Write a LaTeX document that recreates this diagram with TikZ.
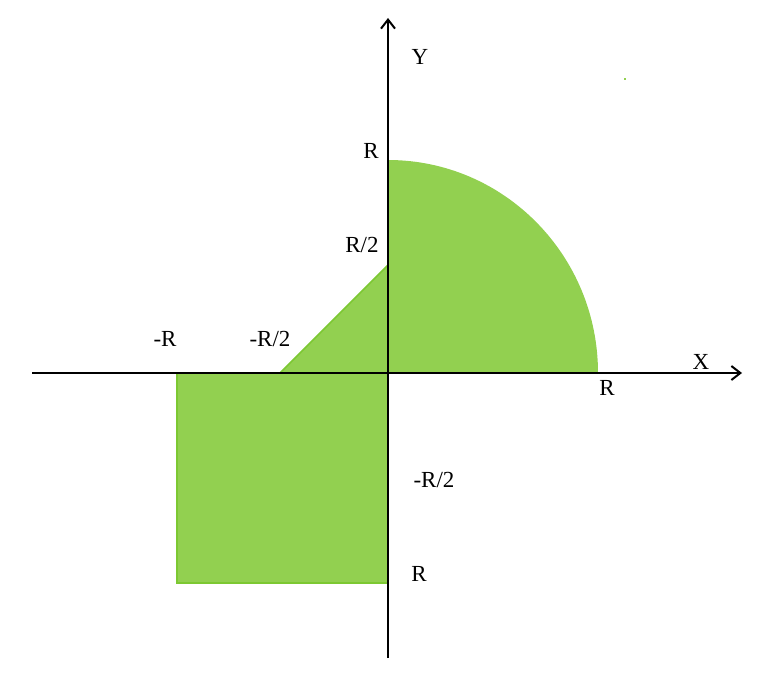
\documentclass[tikz,border=0pt]{standalone}
\usepackage{fontspec}
\setmainfont{Liberation Serif}
\usetikzlibrary{arrows.meta}
\definecolor{fillg}{HTML}{92D050}
\definecolor{edgeg}{HTML}{7CC832}
\begin{document}
\begin{tikzpicture}[x=1pt,y=-1pt,
  lbl/.style={font=\fontsize{23}{25}\selectfont, inner sep=0pt},
  axis/.style={line width=2pt, -{Straight Barb[length=9pt,width=14pt,line width=2pt]}}]
\useasboundingbox (0,0) rectangle (770,693);
% shapes
\fill[fillg] (388,373) -- (598,373) arc[start angle=0,end angle=90,x radius=210,y radius=-213] -- cycle;
\filldraw[fill=fillg, draw=edgeg, line width=1.5pt] (177,373) rectangle (388,583);
\filldraw[fill=fillg, draw=edgeg, line width=1.5pt] (280,373) -- (388,265) -- (388,373) -- cycle;
\fill[fillg] (624,78) rectangle (626,80);
% axes
\coordinate (xs) at (32,373);
\coordinate (xe) at (742,373);
\coordinate (ys) at (388,658);
\coordinate (ye) at (388,18);
\draw[axis] (xs) -- (xe);
\draw[axis] (ys) -- (ye);
% labels
\node[lbl] (ly) at (420,57) {Y};
\node[lbl] (lr1) at (371,151) {R};
\node[lbl] (lr2) at (362,245) {R/2};
\node[lbl] (lmr) at (165,339) {-R};
\node[lbl] (lmr2) at (270,339) {-R/2};
\node[lbl] (lx) at (701,362) {X};
\node[lbl] (lrx) at (607,388) {R};
\node[lbl] (lmry) at (434,480) {-R/2};
\node[lbl] (lry) at (419,574) {R};
\end{tikzpicture}
\end{document}
